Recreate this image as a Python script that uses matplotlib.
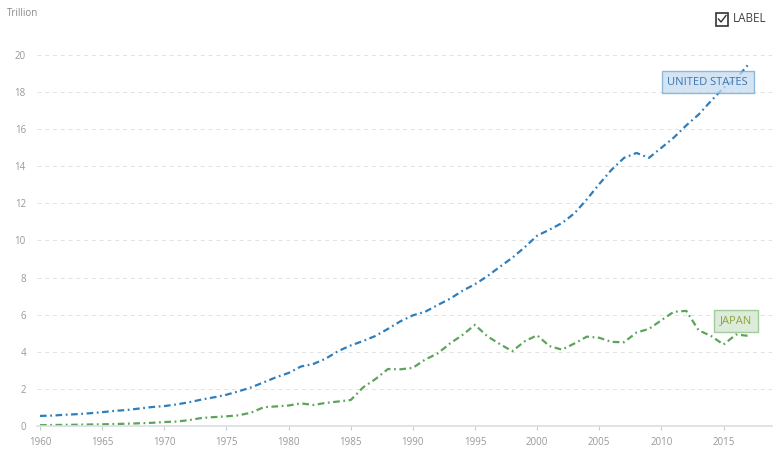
import matplotlib.pyplot as plt
from matplotlib.patches import Rectangle

plt.rcParams['font.family'] = ['Open Sans', 'DejaVu Sans']

years = list(range(1960, 2018))

# GDP, current US$ trillion
united_states = [0.543, 0.563, 0.605, 0.638, 0.686, 0.744, 0.815, 0.862, 0.943, 1.020,
                 1.073, 1.165, 1.280, 1.425, 1.545, 1.684, 1.873, 2.082, 2.352, 2.627,
                 2.857, 3.207, 3.343, 3.634, 4.037, 4.339, 4.580, 4.855, 5.236, 5.642,
                 5.963, 6.158, 6.520, 6.859, 7.287, 7.640, 8.073, 8.578, 9.063, 9.631,
                 10.252, 10.582, 10.936, 11.458, 12.214, 13.037, 13.815, 14.452, 14.713, 14.449,
                 14.992, 15.543, 16.197, 16.785, 17.522, 18.219, 18.707, 19.485]
japan = [0.044, 0.054, 0.061, 0.070, 0.082, 0.091, 0.106, 0.124, 0.147, 0.172,
         0.213, 0.240, 0.318, 0.432, 0.479, 0.522, 0.577, 0.721, 1.013, 1.055,
         1.105, 1.218, 1.135, 1.244, 1.320, 1.399, 2.079, 2.532, 3.072, 3.054,
         3.133, 3.584, 3.909, 4.454, 4.907, 5.449, 4.833, 4.414, 4.033, 4.562,
         4.888, 4.304, 4.115, 4.445, 4.815, 4.755, 4.530, 4.515, 5.038, 5.231,
         5.700, 6.157, 6.203, 5.156, 4.850, 4.389, 4.927, 4.860]

xticks = list(range(1960, 2016, 5))
yticks = list(range(0, 21, 2))

blue = '#2f7ebc'
green = '#5da45a'

fig = plt.figure(figsize=(7.78, 4.57), dpi=100)
ax = fig.add_axes([37 / 778, 1 - 426 / 457, (772 - 37) / 778, (426 - 40) / 457])

ax.plot(years, united_states, color=blue, lw=1.6, dashes=(3, 1.6, 0.8, 1.6))
ax.plot(years, japan, color=green, lw=1.6, dashes=(3, 1.6, 0.8, 1.6))

ax.set_xlim(1959.76, 2018.9)
ax.set_ylim(0, 20.8)
ax.set_xticks(xticks)
ax.set_yticks(yticks)
ax.grid(axis='y', color='#e2e2e2', linestyle=(0, (4, 4)), lw=0.7)
ax.set_axisbelow(True)
for side in ['top', 'right', 'left']:
    ax.spines[side].set_visible(False)
ax.spines['bottom'].set_color('#d8dfe3')
ax.spines['bottom'].set_linewidth(1.2)
ax.tick_params(axis='y', length=0, pad=8, labelsize=7, labelcolor='#999999')
ax.tick_params(axis='x', length=3, color='#cccccc', pad=5, labelsize=7, labelcolor='#999999')

ax.text(2013.73, 18.53, 'UNITED STATES', ha='center', va='center', fontsize=8, color='#3a76b0',
        bbox=dict(boxstyle='square,pad=0.5', fc='#c6dcef', ec='#6ea6d6', lw=1, alpha=0.75))
ax.text(2015.99, 5.66, 'JAPAN', ha='center', va='center', fontsize=8, color='#8aa53a',
        bbox=dict(boxstyle='square,pad=0.5', fc='#d7e8d4', ec='#94c58e', lw=1, alpha=0.85))

fig.text(7 / 778, 1 - 13 / 457, 'Trillion', ha='left', va='center', fontsize=7, color='#888888')

fig.patches.append(Rectangle((716 / 778, 1 - 25.5 / 457), 12 / 778, 12.5 / 457,
                             transform=fig.transFigure, fill=False, ec='#333333', lw=1.2))
fig.add_artist(plt.Line2D([718.5 / 778, 721 / 778, 726 / 778],
                          [1 - 19 / 457, 1 - 22 / 457, 1 - 15.5 / 457],
                          transform=fig.transFigure, color='#333333', lw=1))
fig.text(733 / 778, 1 - 19 / 457, 'LABEL', ha='left', va='center', fontsize=8.5, color='#444444')

fig.savefig('out.png', dpi=100)
